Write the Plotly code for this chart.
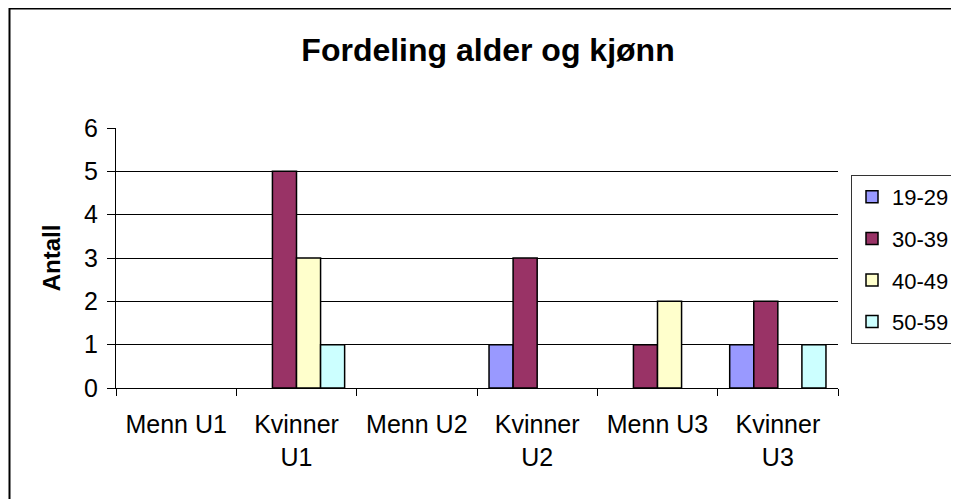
import plotly.graph_objects as go

categories = ["Menn U1", "Kvinner<br>U1", "Menn U2", "Kvinner<br>U2", "Menn U3", "Kvinner<br>U3"]
age_groups = ["19-29", "30-39", "40-49", "50-59"]
v_19_29 = [0, 0, 0, 1, 0, 1]
v_30_39 = [0, 5, 0, 3, 1, 2]
v_40_49 = [0, 3, 0, 0, 2, 0]
v_50_59 = [0, 1, 0, 0, 0, 1]
colors = ["#9999FF", "#993366", "#FFFFCC", "#CCFFFF"]

series = [v_19_29, v_30_39, v_40_49, v_50_59]
FONT = "Liberation Sans, Arial, sans-serif"

# page body has an 8px margin, so the figure is shrunk / shifted by that
OFF = 8
W, H = 959 - OFF, 499 - OFF

fig = go.Figure()
for name, vals, col in zip(age_groups, series, colors):
    # zero values draw nothing (no flat outline)
    fig.add_trace(go.Bar(x=categories, y=[v if v else None for v in vals], name=name,
                         legendgroup=name,
                         marker=dict(color=col, line=dict(color="black", width=1.5))))

# plot area 116..838 px wide, 128..388 px tall (page pixels)
L, R, T, B = 116 - OFF, 959 - 838, 128 - OFF, 499 - 388
pw, ph = W - L - R, H - T - B

fig.update_layout(
    width=W, height=H,
    margin=dict(l=L, r=R, t=T, b=B),
    paper_bgcolor="white", plot_bgcolor="white",
    font=dict(family=FONT, size=25, color="black"),
    barmode="group", bargap=0.2, bargroupgap=0,
    title=dict(text="<b>Fordeling alder og kjønn</b>", font=dict(size=32),
               x=(488 - OFF) / W, xref="container", xanchor="center",
               y=1 - (50 - OFF) / H, yref="container", yanchor="middle"),
    legend=dict(xref="container", yref="container",
                x=(851 - OFF) / W, y=1 - (175 - OFF) / H, xanchor="left", yanchor="top",
                bordercolor="#333333", borderwidth=1, bgcolor="white",
                tracegroupgap=10, itemwidth=30, font=dict(size=22)),
    showlegend=True,
)
fig.update_xaxes(showline=True, linecolor="black", linewidth=1,
                 ticks="outside", ticklen=7, tickcolor="black",
                 tickson="boundaries", showgrid=False, ticklabelstandoff=14)
fig.update_yaxes(range=[0, 6], dtick=1, showline=True, linecolor="black", linewidth=1,
                 ticks="outside", ticklen=8, tickcolor="black", ticklabelstandoff=4,
                 showgrid=True, gridcolor="black", gridwidth=1, zeroline=False,
                 title=dict(text="<b>Antall</b>", font=dict(size=24), standoff=16))

# outer chart border (cropped on right/bottom)
fig.add_shape(type="rect", xref="paper", yref="paper",
              x0=(9.5 - 116) / pw, x1=(1000 - 116) / pw,
              y0=(388 - 540) / ph, y1=(388 - 8.5) / ph,
              line=dict(color="black", width=2), layer="below")

fig.write_html("out.html")
